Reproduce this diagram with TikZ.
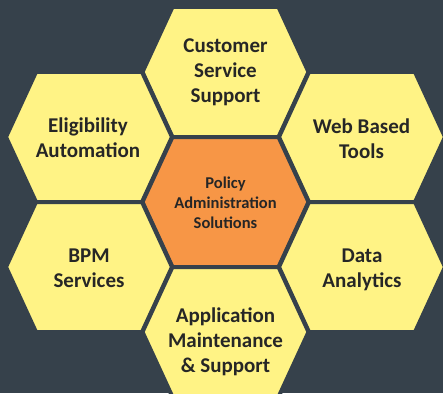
\documentclass[tikz,border=0pt]{standalone}
\usepackage{fontspec}
\setmainfont{Carlito}
\definecolor{slate}{HTML}{36414B}
\definecolor{honey}{HTML}{FFF385}
\definecolor{peel}{HTML}{F79646}
\definecolor{ink}{HTML}{262626}
\begin{document}
\begin{tikzpicture}[x=1pt,y=-1pt,
    cell/.style={fill=honey,draw=slate,line width=4pt},
    tag/.style={text=ink,align=center,font=\bfseries\fontsize{21}{25}\selectfont}]
\fill[slate] (0,0) rectangle (443,393);
\useasboundingbox (0,0) rectangle (443,393);
\clip (0,0) rectangle (443,393);
% honeycomb: middle column and both side columns
\foreach \x/\y/\f[count=\i] in {225.5/72/honey,89/137/honey,362/137/honey,
    225.5/202/peel,89/267/honey,362/267/honey,225.5/332/honey} {
    \filldraw[cell,fill=\f] (\x,\y) ++(-83,0) -- ++(30,-65) -- ++(106,0)
        -- ++(30,65) -- ++(-30,65) -- ++(-106,0) -- cycle;
}
\node[tag] (cust) at (225.5,72) {Customer\\Service\\Support};
\node[tag] (elig) at (88,137.5) {Eligibility\\Automation};
\node[tag] (web) at (361.5,138.5) {Web Based\\Tools};
\node[tag,font=\bfseries\fontsize{16.5}{20}\selectfont] (pas) at (225.5,203) {Policy\\Administration\\Solutions};
\node[tag] (bpm) at (89,268.5) {BPM\\Services};
\node[tag] (data) at (362,270) {Data\\Analytics};
\node[tag] (apps) at (225.5,342) {Application\\Maintenance\\\& Support};
\end{tikzpicture}
\end{document}
